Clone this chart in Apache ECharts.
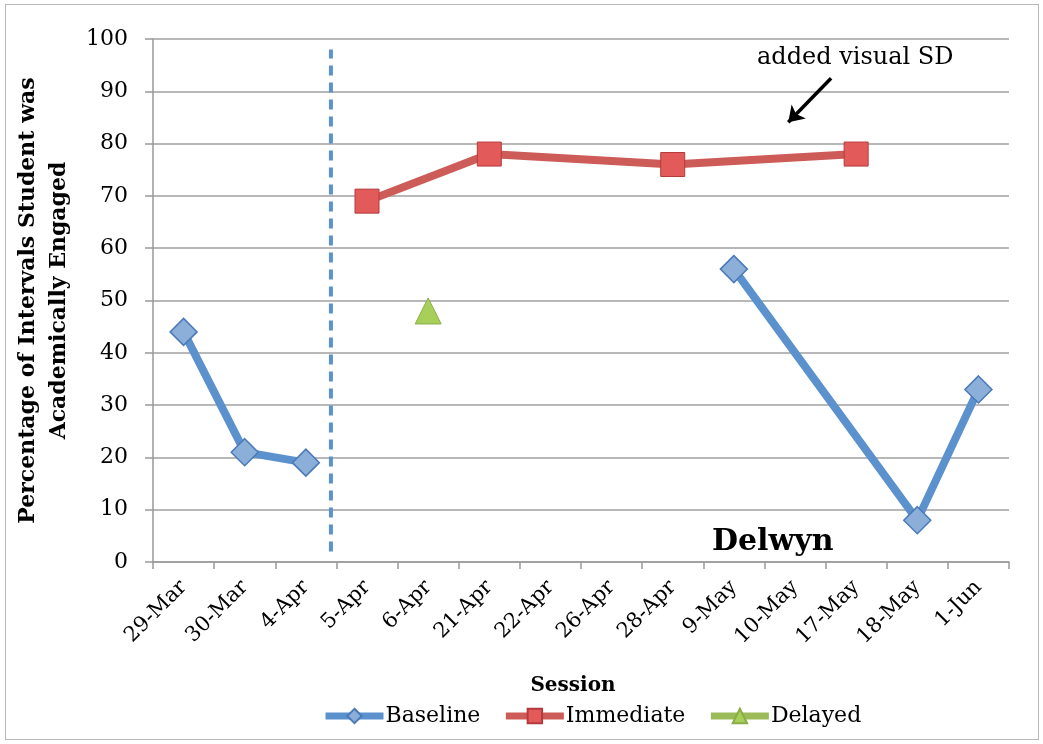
<!DOCTYPE html>
<html>
<head>
<meta charset="utf-8">
<script src="https://cdn.jsdelivr.net/npm/echarts@6/dist/echarts.min.js"></script>
<style>
html,body{margin:0;padding:0;background:#fff;}
#chart{position:absolute;left:5px;top:4px;width:1034px;height:736px;border:1px solid #b8b8b8;box-sizing:border-box;}
</style>
</head>
<body>
<div id="chart"></div>
<script>
// sessions along the x axis
var sessions = ['29-Mar','30-Mar','4-Apr','5-Apr','6-Apr','21-Apr','22-Apr','26-Apr','28-Apr','9-May','10-May','17-May','18-May','1-Jun'];
// baseline is drawn as two runs (before and after the phase line)
var baselineA = [44, 21, 19, '-', '-', '-', '-', '-', '-', '-', '-', '-', '-', '-'];
var baselineB = ['-', '-', '-', '-', '-', '-', '-', '-', '-', 56, null, null, 8, 33];
var immediate = [null, null, null, 69, null, 78, null, null, 76, null, null, 78, null, null];
var delayed = ['-', '-', '-', '-', 48, '-', '-', '-', '-', '-', '-', '-', '-', '-'];
var yTicks = [0, 100, 10];
// phase change line and annotation arrow (in session-index units)
var phaseLine = [[2.91, 2], [2.91, 98]];
var arrowPts = [[11.09, 92.5], [10.39, 84.1]];

var FONT = '"DejaVu Serif", "Liberation Serif", serif';
var chart = echarts.init(document.getElementById('chart'));

var diamond = {color:'#8cafd9', borderColor:'#4a7ab8', borderWidth:1.5};
var option = {
    animation: false,
    textStyle: {fontFamily: FONT},
    grid: {left: 147, top: 34, width: 856, height: 523, outerBoundsMode: 'none', containLabel: false},
    legend: {
        top: 695,
        left: 311,
        itemWidth: 58,
        itemHeight: 18,
        itemGap: 22,
        textStyle: {fontFamily: FONT, fontSize: 22, color: '#000', padding: [0, 0, 0, -3]},
        lineStyle: {width: 7},
        data: ['Baseline', 'Immediate', 'Delayed']
    },
    xAxis: [{
        type: 'category',
        data: sessions,
        boundaryGap: true,
        name: 'Session',
        nameLocation: 'middle',
        nameGap: 114,
        nameTextStyle: {fontFamily: FONT, fontSize: 20, fontWeight: 'bold', color: '#000', padding: [0, 16, 0, 0]},
        axisLine: {lineStyle: {color: '#999', width: 1.5}},
        axisTick: {show: true, length: 7, alignWithLabel: false, lineStyle: {color: '#999', width: 1.5}},
        axisLabel: {rotate: 45, fontSize: 21, color: '#000', margin: 22, interval: 0, fontFamily: FONT},
        splitLine: {show: false}
    }, {
        type: 'value',
        min: 0,
        max: 14,
        show: false
    }],
    yAxis: {
        type: 'value',
        min: yTicks[0],
        max: yTicks[1],
        interval: yTicks[2],
        name: 'Percentage of Intervals Student was\nAcademically Engaged',
        nameLocation: 'middle',
        nameRotate: 90,
        nameGap: 72,
        nameTextStyle: {fontFamily: FONT, fontSize: 22, fontWeight: 'bold', color: '#000', lineHeight: 31},
        axisLine: {show: true, lineStyle: {color: '#999', width: 1.5}},
        axisTick: {show: true, length: 8, lineStyle: {color: '#999', width: 1.5}},
        axisLabel: {fontSize: 22, color: '#000', margin: 25, fontFamily: FONT},
        splitLine: {lineStyle: {color: '#a0a0a0', width: 1.5}}
    },
    series: [{
        name: 'Baseline',
        type: 'line',
        data: baselineA,
        symbol: 'diamond',
        symbolSize: 27,
        lineStyle: {color: '#5b92cd', width: 8},
        itemStyle: diamond,
        color: '#5b92cd'
    }, {
        name: 'Baseline',
        type: 'line',
        data: baselineB,
        connectNulls: true,
        symbol: 'diamond',
        symbolSize: 27,
        lineStyle: {color: '#5b92cd', width: 8},
        itemStyle: diamond,
        color: '#5b92cd'
    }, {
        name: 'Immediate',
        type: 'line',
        data: immediate,
        connectNulls: true,
        symbol: 'rect',
        symbolSize: 24,
        lineStyle: {color: '#cd5c58', width: 8},
        itemStyle: {color: '#e35a5a', borderColor: '#b53a3a', borderWidth: 1},
        color: '#cd5c58'
    }, {
        name: 'Delayed',
        type: 'line',
        data: delayed,
        symbol: 'triangle',
        symbolSize: 26,
        lineStyle: {color: '#9bbb59', width: 8},
        itemStyle: {color: '#a8cf5a', borderColor: '#8aae45', borderWidth: 1},
        color: '#9bbb59'
    }, {
        type: 'line',
        xAxisIndex: 1,
        data: phaseLine,
        symbol: 'none',
        silent: true,
        lineStyle: {color: '#5b92cd', width: 4, type: [10, 7]}
    }, {
        type: 'lines',
        coordinateSystem: 'cartesian2d',
        xAxisIndex: 1,
        silent: true,
        symbol: ['none', 'arrow'],
        symbolSize: 15,
        lineStyle: {color: '#000', width: 3.5, opacity: 1},
        data: [{coords: arrowPts}]
    }],
    graphic: [{
        type: 'text',
        left: 751,
        top: 41,
        style: {text: 'added visual SD', font: '24px ' + FONT, fill: '#000'}
    }, {
        type: 'text',
        left: 706,
        top: 522,
        style: {text: 'Delwyn', font: 'bold 30px ' + FONT, fill: '#000'}
    }]
};
chart.setOption(option);
</script>
</body>
</html>
